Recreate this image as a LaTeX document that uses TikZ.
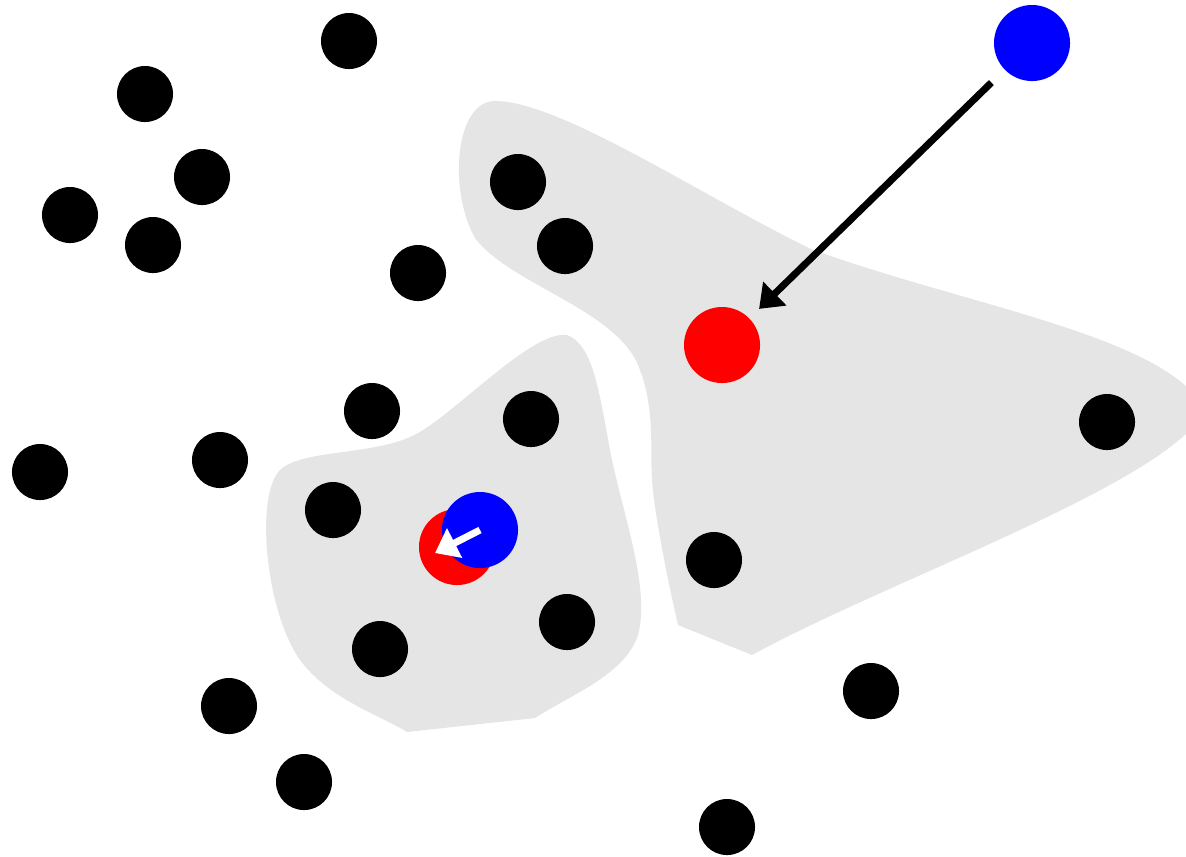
\documentclass[tikz,border=0pt]{standalone}
\usepackage{tikz}
\usetikzlibrary{arrows.meta}
\definecolor{blobgray}{RGB}{229,229,229}
\definecolor{cblue}{RGB}{0,0,255}
\definecolor{cred}{RGB}{255,0,0}

\begin{document}
\begin{tikzpicture}[x=0.01cm, y=-0.01cm,
  dot/.style={circle, fill=black, inner sep=0pt, minimum size=0.56cm},
  centre/.style={circle, inner sep=0pt, minimum size=0.76cm},
  move/.style={line width=0.07cm, -{Triangle[length=0.22cm, width=0.32cm]}}]
 \useasboundingbox (0,0) rectangle (1186,856);
 \clip (0,0) rectangle (1186,856);
 % clusters
 \fill[blobgray] (495,101) .. controls (455,101) and (448,190) .. (475,238)
   .. controls (510,285) and (620,310) .. (640,370)
   .. controls (655,410) and (650,450) .. (652,480)
   .. controls (655,520) and (670,590) .. (678,625) -- (752,655)
   .. controls (880,585) and (1120,500) .. (1190,430) -- (1190,390)
   .. controls (1130,330) and (950,300) .. (811,249)
   .. controls (700,195) and (560,101) .. (495,101) -- cycle;
 \fill[blobgray] (567,335) .. controls (530,330) and (450,420) .. (410,437)
   .. controls (370,455) and (300,450) .. (280,470)
   .. controls (255,495) and (265,610) .. (300,660)
   .. controls (330,700) and (380,715) .. (407,732) -- (535,718)
   .. controls (570,695) and (625,675) .. (638,635)
   .. controls (650,590) and (625,520) .. (612,460)
   .. controls (600,400) and (595,345) .. (567,335) -- cycle;
 % data points
 \foreach \x/\y [count=\i] in {349/41, 145/94, 202/177, 70/215, 153/245, 418/273,
   518/182, 565/246, 372/411, 531/419, 40/472, 220/460, 333/510, 567/622,
   380/649, 229/706, 304/782, 714/560, 871/691, 727/827, 1107/422}{
   \node[dot] (d\i) at (\x,\y) {};
 }
 % centroids
 \node[centre, fill=cred] (r1) at (722,345) {};
 \node[centre, fill=cblue] (b1) at (1032,43) {};
 \node[centre, fill=cred] (r2) at (457,547) {};
 \node[centre, fill=cblue] (b2) at (480,530) {};
 \coordinate (t2) at (435,553);
 \draw[move, shorten <=0.18cm, shorten >=0.13cm] (b1) -- (r1);
 \draw[move, white] (b2.center) -- (t2);
\end{tikzpicture}
\end{document}
